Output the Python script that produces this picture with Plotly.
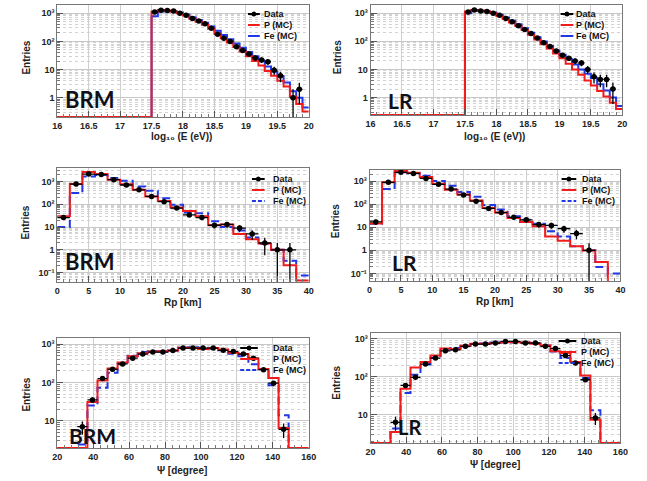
import numpy as np
import plotly.graph_objects as go

W, H = 647, 481

# ---------------- data ----------------
# log10(E/eV): bins of 0.1 from 16 to 20; first 15 bins (16-17.5) are empty
e_lo, e_w, e_nempty = 16.0, 0.1, 15
brm_e_data = [1100, 1280, 1250, 1200, 1000, 850, 650, 530, 420, 290, 180, 130, 100, 65, 48, 36, 26, 22, 19, 9.5, 6, 0, 1, 2, 0]
brm_e_p = [1150, 1300, 1250, 1150, 1000, 820, 640, 500, 390, 280, 185, 130, 92, 63, 44, 30, 20, 14, 9, 6, 4, 2.5, 1.1, 0.6, 0.33]
brm_e_fe = [780, 1150, 1200, 1150, 1050, 900, 720, 570, 450, 340, 240, 170, 120, 85, 60, 42, 30, 20, 13, 8.5, 5.8, 3.5, 1.7, 1.0, 0.45]
lr_e_data = [1100, 1300, 1200, 1150, 1000, 850, 650, 500, 360, 260, 190, 130, 88, 65, 45, 32, 25, 20, 17, 10, 5.5, 4.4, 4.4, 2, 0]
lr_e_p = [1150, 1300, 1250, 1150, 1000, 800, 620, 470, 350, 250, 170, 115, 80, 55, 37, 25, 16, 10, 6.5, 4, 2.7, 1.7, 1.1, 0.66, 0.39]
lr_e_fe = [1000, 1250, 1200, 1150, 1050, 870, 700, 540, 400, 290, 200, 140, 98, 68, 47, 33, 23, 15, 10, 7, 5, 3, 1.8, 1.0, 0.5]

# Rp [km]: bins of 2 km from 0 to 40
rp_lo, rp_w = 0.0, 2.0
brm_rp_data = [26, 770, 2100, 2000, 1200, 700, 430, 220, 130, 68, 34, 26, 12, 13, 9, 5, 2, 1, 1, 0]
brm_rp_p = [30, 770, 2600, 2100, 1200, 750, 430, 220, 140, 72, 50, 30, 12, 13, 5, 2.9, 1.9, 1, 0.21, 0.045]
brm_rp_fe = [10, 310, 1650, 1900, 1400, 1070, 600, 390, 185, 94, 43, 40, 18, 10, 7, 3.5, 1.8, 1, 0.33, 0.075]
lr_rp_data = [17, 880, 2400, 2150, 1300, 720, 450, 250, 135, 65, 43, 27, 21, 13, 12, 8.7, 5.3, 1, 0, 0]
lr_rp_p = [14.5, 900, 2700, 2300, 1500, 770, 420, 260, 145, 68, 43, 25, 17, 11, 4, 2.6, 1.5, 0.98, 0.31, 0.04]
lr_rp_fe = [14, 450, 2400, 2200, 1700, 1000, 630, 340, 210, 93, 59, 30, 21, 14, 6.7, 4, 1.5, 1, 0.19, 0.1]

# Psi [degree]: 25 bins of 5.6 deg from 20 to 160
psi_lo, psi_w = 20.0, 5.6
brm_psi_data = [0, 0, 7, 35, 126, 220, 305, 430, 550, 620, 620, 680, 790, 790, 790, 790, 690, 640, 550, 430, 215, 96, 6, 0, 0]
brm_psi_p = [0, 0, 0, 31, 112, 230, 330, 480, 580, 640, 650, 680, 810, 790, 750, 790, 720, 600, 550, 420, 225, 130, 6.5, 0, 0]
brm_psi_fe = [0, 0, 2.4, 25, 73, 180, 300, 500, 620, 650, 640, 680, 810, 830, 800, 760, 690, 560, 480, 300, 220, 85, 14, 0, 0]
lr_psi_data = [0, 0, 6.3, 59, 96, 215, 310, 480, 510, 630, 720, 720, 770, 850, 850, 770, 770, 630, 550, 360, 230, 83, 8.2, 0, 0]
lr_psi_p = [0, 0, 3.5, 48, 175, 245, 360, 550, 530, 650, 740, 740, 770, 810, 810, 800, 740, 660, 470, 420, 245, 107, 7.4, 0, 0]
lr_psi_fe = [0, 0, 4.3, 37, 112, 210, 310, 520, 570, 650, 720, 750, 800, 800, 800, 800, 740, 660, 460, 310, 230, 92, 13, 0, 0]

legend_labels = ["Data", "P (MC)", "Fe (MC)"]
e_ticks = [16, 16.5, 17, 17.5, 18, 18.5, 19, 19.5, 20]
rp_ticks = [0, 5, 10, 15, 20, 25, 30, 35, 40]
psi_ticks = [20, 40, 60, 80, 100, 120, 140, 160]
ytick_vals = [0.1, 1, 10, 100, 1000]
ytick_text = ["10⁻¹", "1", "10", "10²", "10³"]

RED = "#f01c1c"
BLUE = "#2038e6"
FONT = "Liberation Sans"
FE_DASH = "8px,4px"

E_PAD = [0] * e_nempty

panels = [
    dict(tag="BRM", data=E_PAD + brm_e_data, p=E_PAD + brm_e_p, fe=E_PAD + brm_e_fe, lo=e_lo, w=e_w,
         box=(53.3, 310, 5, 117), yr=(-0.68, 3.29), xr=(16, 20), xt=e_ticks, xminor=0.1, fedash="solid",
         xtitle="log₁₀ (E (eV))", xtitle_pos=(180, 136), ytitle_pos=(21, 58),
         tag_pos=(86.5, 99.5), tag_size=22, leg=(62, 50, 47, 9)),
    dict(tag="LR", data=E_PAD + lr_e_data, p=E_PAD + lr_e_p, fe=E_PAD + lr_e_fe, lo=e_lo, w=e_w,
         box=(373, 630, 5, 115), yr=(-0.62, 3.29), xr=(16, 20), xt=e_ticks, xminor=0.1, fedash="solid",
         xtitle="log₁₀ (E (eV))", xtitle_pos=(499.5, 137), ytitle_pos=(340, 57),
         tag_pos=(403.5, 100), tag_size=21, leg=(63, 50, 48, 9)),
    dict(tag="BRM", data=brm_rp_data, p=brm_rp_p, fe=brm_rp_fe, lo=rp_lo, w=rp_w,
         box=(53.3, 310, 168, 282), yr=(-1.41, 3.59), xr=(0, 40), xt=rp_ticks, xminor=1, fedash=FE_DASH,
         xtitle="Rp [km]", xtitle_pos=(181.5, 302), ytitle_pos=(20, 223),
         tag_pos=(86.5, 261.5), tag_size=22, leg=(58, 45, 38, 11)),
    dict(tag="LR", data=lr_rp_data, p=lr_rp_p, fe=lr_rp_fe, lo=rp_lo, w=rp_w,
         box=(372, 628, 170, 281), yr=(-1.33, 3.48), xr=(0, 40), xt=rp_ticks, xminor=1, fedash=FE_DASH,
         xtitle="Rp [km]", xtitle_pos=(500, 301), ytitle_pos=(338, 221),
         tag_pos=(407.5, 262.5), tag_size=21, leg=(60, 45, 40, 9)),
    dict(tag="BRM", data=brm_psi_data, p=brm_psi_p, fe=brm_psi_fe, lo=psi_lo, w=psi_w,
         box=(53.3, 310, 338, 448), yr=(0.29, 3.16), xr=(20, 160), xt=psi_ticks, xminor=4, fedash=FE_DASH,
         xtitle="Ψ [degree]", xtitle_pos=(181, 470), ytitle_pos=(21, 395),
         tag_pos=(89.5, 435), tag_size=21, leg=(70, 52, 38, 10)),
    dict(tag="LR", data=lr_psi_data, p=lr_psi_p, fe=lr_psi_fe, lo=psi_lo, w=psi_w,
         box=(373, 628, 333, 443), yr=(0.255, 3.15), xr=(20, 160), xt=psi_ticks, xminor=4, fedash=FE_DASH,
         xtitle="Ψ [degree]", xtitle_pos=(500, 464.5), ytitle_pos=(337.5, 383),
         tag_pos=(412.5, 427), tag_size=20, leg=(63, 45, 41, 8)),
]
ROW_GAP = 11


def fx(px):
    return px / W


def fy(py):
    return 1 - py / H


fig = go.Figure()
shapes = []
annotations = []

for i, pn in enumerate(panels, start=1):
    xa = "x" if i == 1 else f"x{i}"
    ya = "y" if i == 1 else f"y{i}"
    floor = 10 ** pn["yr"][0]
    nb = len(pn["p"])
    edges = pn["lo"] + pn["w"] * np.arange(nb + 1)
    centers = pn["lo"] + pn["w"] * (np.arange(nb) + 0.5)

    for vals, color, dash in ((pn["fe"], BLUE, pn["fedash"]), (pn["p"], RED, "solid")):
        v = np.asarray(vals, dtype=float)
        v = np.where(v > 0, v, floor)
        ystep = list(v) + [v[-1]]
        fig.add_trace(go.Scatter(
            x=edges, y=ystep, mode="lines", xaxis=xa, yaxis=ya,
            line=dict(color=color, width=2, shape="hv", dash=dash),
            showlegend=False, hoverinfo="skip"))

    d = np.asarray(pn["data"], dtype=float)
    mask = d > 0
    err = np.sqrt(d[mask])
    errm = np.minimum(err, d[mask] * 0.999)
    fig.add_trace(go.Scatter(
        x=centers[mask], y=d[mask], mode="markers", xaxis=xa, yaxis=ya,
        marker=dict(color="black", size=5.5, symbol="circle"),
        error_x=dict(type="constant", value=pn["w"] / 2, color="black", thickness=1.3, width=0),
        error_y=dict(type="data", array=err, arrayminus=errm, symmetric=False,
                     color="black", thickness=1.3, width=0),
        showlegend=False, hoverinfo="skip"))

    x0, x1, y0, y1 = pn["box"]
    lo_dec, hi_dec = int(np.floor(pn["yr"][0])), int(np.ceil(pn["yr"][1]))
    minor_vals = [k * 10.0 ** n for n in range(lo_dec, hi_dec + 1) for k in range(2, 10)]
    keep = [pn["yr"][0] <= np.log10(v) <= pn["yr"][1] for v in ytick_vals]
    tv = [v for v, k in zip(ytick_vals, keep) if k]
    tt = [t for t, k in zip(ytick_text, keep) if k]

    xkey = "xaxis" if i == 1 else f"xaxis{i}"
    ykey = "yaxis" if i == 1 else f"yaxis{i}"
    fig.update_layout(**{
        xkey: dict(domain=[fx(x0), fx(x1)], anchor=ya, range=list(pn["xr"]),
                   tickvals=pn["xt"], ticks="inside", ticklen=6, tickcolor="#555",
                   showline=True, linecolor="#777", linewidth=1, mirror=True,
                   showgrid=True, gridcolor="#cfcfcf", gridwidth=1, zeroline=False,
                   tickfont=dict(family=FONT, size=9, color="#222", weight="bold"),
                   minor=dict(dtick=pn["xminor"], ticks="inside", ticklen=3, tickcolor="#777",
                              showgrid=False)),
        ykey: dict(domain=[fy(y1), fy(y0)], anchor=xa, type="log", range=list(pn["yr"]),
                   tickvals=tv, ticktext=tt, ticks="inside", ticklen=6, tickcolor="#555",
                   showline=True, linecolor="#777", linewidth=1, mirror=True,
                   showgrid=True, gridcolor="#c8c8c8", gridwidth=1, zeroline=False,
                   tickfont=dict(family=FONT, size=9, color="#222", weight="bold"),
                   minor=dict(tickvals=minor_vals, ticks="inside", ticklen=3, tickcolor="#777",
                              showgrid=True, gridcolor="#d2d2d2", griddash="dot", gridwidth=1)),
    })

    # axis titles
    annotations.append(dict(xref="paper", yref="paper", x=fx(pn["xtitle_pos"][0]), y=fy(pn["xtitle_pos"][1]),
                            text=pn["xtitle"], showarrow=False, xanchor="center", yanchor="middle",
                            font=dict(family=FONT, size=10, color="#222", weight="bold")))
    annotations.append(dict(xref="paper", yref="paper", x=fx(pn["ytitle_pos"][0]), y=fy(pn["ytitle_pos"][1]),
                            text="Entries", textangle=-90, showarrow=False, xanchor="center", yanchor="middle",
                            font=dict(family=FONT, size=10, color="#222", weight="bold")))
    # detector tag
    annotations.append(dict(xref="paper", yref="paper", x=fx(pn["tag_pos"][0]), y=fy(pn["tag_pos"][1]),
                            text=pn["tag"], showarrow=False, xanchor="center", yanchor="middle",
                            font=dict(family="Lato", size=pn["tag_size"], color="#101018", weight="bold")))

    # legend (drawn as shapes + text)
    la, lb, tx, r0 = pn["leg"]
    lx0, lx1, ltx = x1 - la, x1 - lb, x1 - tx
    styles = [("black", "solid"), (RED, "solid"), (BLUE, pn["fedash"] if pn["fedash"] == "solid" else "4px,2px")]
    for k, ((col, dsh), lab) in enumerate(zip(styles, legend_labels)):
        yy = fy(y0 + r0 + k * ROW_GAP)
        shapes.append(dict(type="line", xref="paper", yref="paper", x0=fx(lx0), x1=fx(lx1), y0=yy, y1=yy,
                           line=dict(color=col, width=2, dash=dsh)))
        annotations.append(dict(xref="paper", yref="paper", x=fx(ltx), y=yy, text=lab, showarrow=False,
                                xanchor="left", yanchor="middle", borderpad=0,
                                font=dict(family=FONT, size=9, color="#111", weight="bold")))
    cx, cy = (lx0 + lx1) / 2, y0 + r0
    shapes.append(dict(type="circle", xref="paper", yref="paper", x0=fx(cx - 2.5), x1=fx(cx + 2.5),
                       y0=fy(cy + 2.5), y1=fy(cy - 2.5), fillcolor="black", line=dict(color="black", width=0)))

fig.update_layout(width=W, height=H, margin=dict(l=0, r=0, t=0, b=0),
                  paper_bgcolor="white", plot_bgcolor="white", showlegend=False,
                  shapes=shapes, annotations=annotations)

fig.write_html("out.html")
